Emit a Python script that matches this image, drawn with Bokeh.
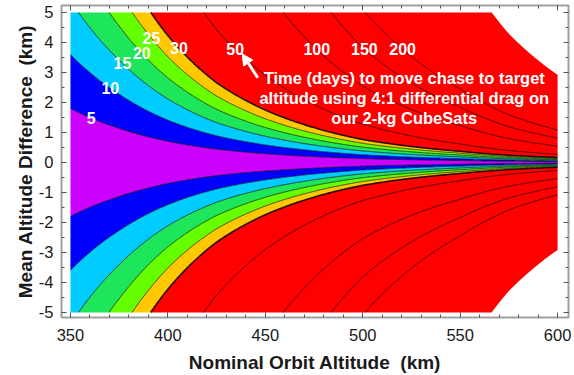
import numpy as np
from bokeh.plotting import figure
from bokeh.models import (Range1d, LinearAxis, Arrow, NormalHead, ColumnDataSource,
                          FixedTicker, CustomJSTickFormatter)
from bokeh.embed import file_html
from bokeh.resources import INLINE
from bokeh.core.properties import value

# Days needed per km of mean altitude difference, by nominal orbit altitude
ALTITUDE_KM = [350, 375, 400, 425, 450, 475, 500, 525, 550, 575, 600]
DAYS_PER_KM = [2.78, 4.4, 7.1, 11.3, 17.2, 25.9, 39.3, 56.7, 81.5, 126, 185]
MAX_DAYS = 540          # computed range ends here (white corner at right)
DIFF_LIMIT_KM = 5

# Filled bands (days) and their colours
FILL_LEVELS = [0, 5, 10, 15, 20, 25, 30, MAX_DAYS]
FILL_COLORS = ["#CC00FF", "#0000FF", "#00CCFF", "#1EE65A", "#66FF00", "#FFC800", "#FF0000"]

# Contour lines (days) and the altitude difference where each is labelled
LINE_LEVELS = [5, 10, 15, 20, 25, 30, 50, 100, 150, 200]
LABEL_DIFF_KM = [1.48, 2.47, 3.3, 3.64, 4.14, 3.8, 3.77, 3.77, 3.77, 3.77]

X_TICKS = [350, 400, 450, 500, 550, 600]
Y_TICKS = list(range(-5, 6))

NOTE_LINES = ["Time (days) to move chase to target",
              "altitude using 4:1 differential drag on",
              "our 2-kg CubeSats"]

FONT = "Liberation Sans"
INK = "#1a1a1a"

log_rate = np.log(DAYS_PER_KM)
x_lo, x_hi = ALTITUDE_KM[0], ALTITUDE_KM[-1]


def rate(alt):
    return np.exp(np.interp(alt, ALTITUDE_KM, log_rate))


def altitude_for(days, diff):
    """Altitude at which moving `diff` km takes `days`."""
    return float(np.interp(np.log(days / diff), log_rate, ALTITUDE_KM))


p = figure(width=574, height=375,
           x_range=Range1d(345.4, 605.6), y_range=Range1d(-5.17, 5.23),
           output_backend="svg", toolbar_location=None,
           min_border_left=61, min_border_right=6, min_border_top=5, min_border_bottom=57,
           x_axis_label="Nominal Orbit Altitude\u00a0\u00a0(km)",
           y_axis_label="Mean Altitude Difference\u00a0\u00a0(km)")
p.background_fill_color = "white"
p.border_fill_color = "white"
p.grid.visible = False
p.outline_line_color = "#a0a0a0"
p.outline_line_width = 2

# ---- filled bands -------------------------------------------------------
band_xs, band_ys, band_colors = [], [], []
for lo, hi, color in zip(FILL_LEVELS[:-1], FILL_LEVELS[1:], FILL_COLORS):
    x0 = x_lo if lo == 0 else max(x_lo, altitude_for(lo, DIFF_LIMIT_KM))
    xs = np.linspace(x0, x_hi, 600)
    k = rate(xs)
    top = np.minimum(hi / k, DIFF_LIMIT_KM)
    bot = np.minimum(lo / k, DIFF_LIMIT_KM)
    if lo == 0:
        band_xs.append(np.r_[xs, xs[::-1]].tolist())
        band_ys.append(np.r_[top, -top[::-1]].tolist())
        band_colors.append(color)
    else:
        for sign in (1, -1):
            band_xs.append(np.r_[xs, xs[::-1]].tolist())
            band_ys.append((sign * np.r_[top, bot[::-1]]).tolist())
            band_colors.append(color)

p.patches(xs="xs", ys="ys", fill_color="color", line_color=None,
          source=ColumnDataSource(dict(xs=band_xs, ys=band_ys, color=band_colors)))

# ---- contour lines ------------------------------------------------------
line_xs, line_ys, line_w = [], [], []
for lev in LINE_LEVELS:
    x0 = max(x_lo, altitude_for(lev, DIFF_LIMIT_KM))
    xs = np.linspace(x0, x_hi, 500)
    ys = lev / rate(xs)
    for sign in (1, -1):
        line_xs.append(xs.tolist())
        line_ys.append((sign * ys).tolist())
        line_w.append(1.6 if lev == 30 else 0.8)

p.multi_line(xs="xs", ys="ys", line_width="w", line_color="black", line_alpha=0.85,
             source=ColumnDataSource(dict(xs=line_xs, ys=line_ys, w=line_w)))

# ---- contour labels -----------------------------------------------------
lab_x = [altitude_for(lev, d) for lev, d in zip(LINE_LEVELS, LABEL_DIFF_KM)]
lab_src = ColumnDataSource(dict(x=lab_x, y=LABEL_DIFF_KM, text=[str(v) for v in LINE_LEVELS]))
p.text(x="x", y="y", text="text", source=lab_src, text_color="white",
       text_font=value(FONT), text_font_style="bold", text_font_size="16px",
       text_align="center", text_baseline="middle")

# ---- note with arrow pointing at the 50-day label -----------------------
i50 = LINE_LEVELS.index(50)
ax, ay = lab_x[i50], LABEL_DIFF_KM[i50]
p.add_layout(Arrow(end=NormalHead(size=11, fill_color="white", line_color="white"),
                   x_start=ax + 11.6, y_start=ay - 0.95, x_end=ax + 3.6, y_end=ay - 0.15,
                   line_color="white", line_width=3))

note_src = ColumnDataSource(dict(x=[521.3] * len(NOTE_LINES),
                                 y=[2.81 - 0.665 * i for i in range(len(NOTE_LINES))],
                                 text=NOTE_LINES))
p.text(x="x", y="y", text="text", source=note_src, text_color="white",
       text_font=value(FONT), text_font_style="bold", text_font_size="16.5px",
       text_align="center", text_baseline="middle")

# ---- axes ---------------------------------------------------------------
def style_axis(axis, ticks, minor, show_labels):
    axis.ticker = FixedTicker(ticks=ticks, minor_ticks=minor)
    axis.axis_line_color = None
    axis.major_tick_in = 5
    axis.major_tick_out = 0
    axis.minor_tick_in = 3
    axis.minor_tick_out = 0
    axis.major_tick_line_color = "#555555"
    axis.minor_tick_line_color = "#555555"
    if show_labels:
        axis.major_label_overrides = {t: str(t) for t in ticks}   # plain hyphen minus
        axis.major_label_text_font = FONT
        axis.major_label_text_font_size = "16.5px"
        axis.major_label_text_color = INK
        axis.axis_label_text_font = FONT
        axis.axis_label_text_font_size = "19px"
        axis.axis_label_text_font_style = "bold"
        axis.axis_label_text_color = INK
    else:
        axis.formatter = CustomJSTickFormatter(code="return ''")
        axis.major_label_standoff = 0


x_minor = list(range(350, 601, 10))
y_minor = [v / 2 for v in range(-10, 11)]

style_axis(p.xaxis[0], X_TICKS, x_minor, True)
p.xaxis[0].major_label_standoff = 11
p.xaxis[0].axis_label_standoff = 8
style_axis(p.yaxis[0], Y_TICKS, y_minor, True)
p.yaxis[0].major_label_standoff = 8
p.yaxis[0].axis_label_standoff = 0

top_axis = LinearAxis()
style_axis(top_axis, X_TICKS, x_minor, False)
p.add_layout(top_axis, "above")
right_axis = LinearAxis()
style_axis(right_axis, Y_TICKS, y_minor, False)
p.add_layout(right_axis, "right")

open("out.html", "w").write(file_html(p, INLINE))
